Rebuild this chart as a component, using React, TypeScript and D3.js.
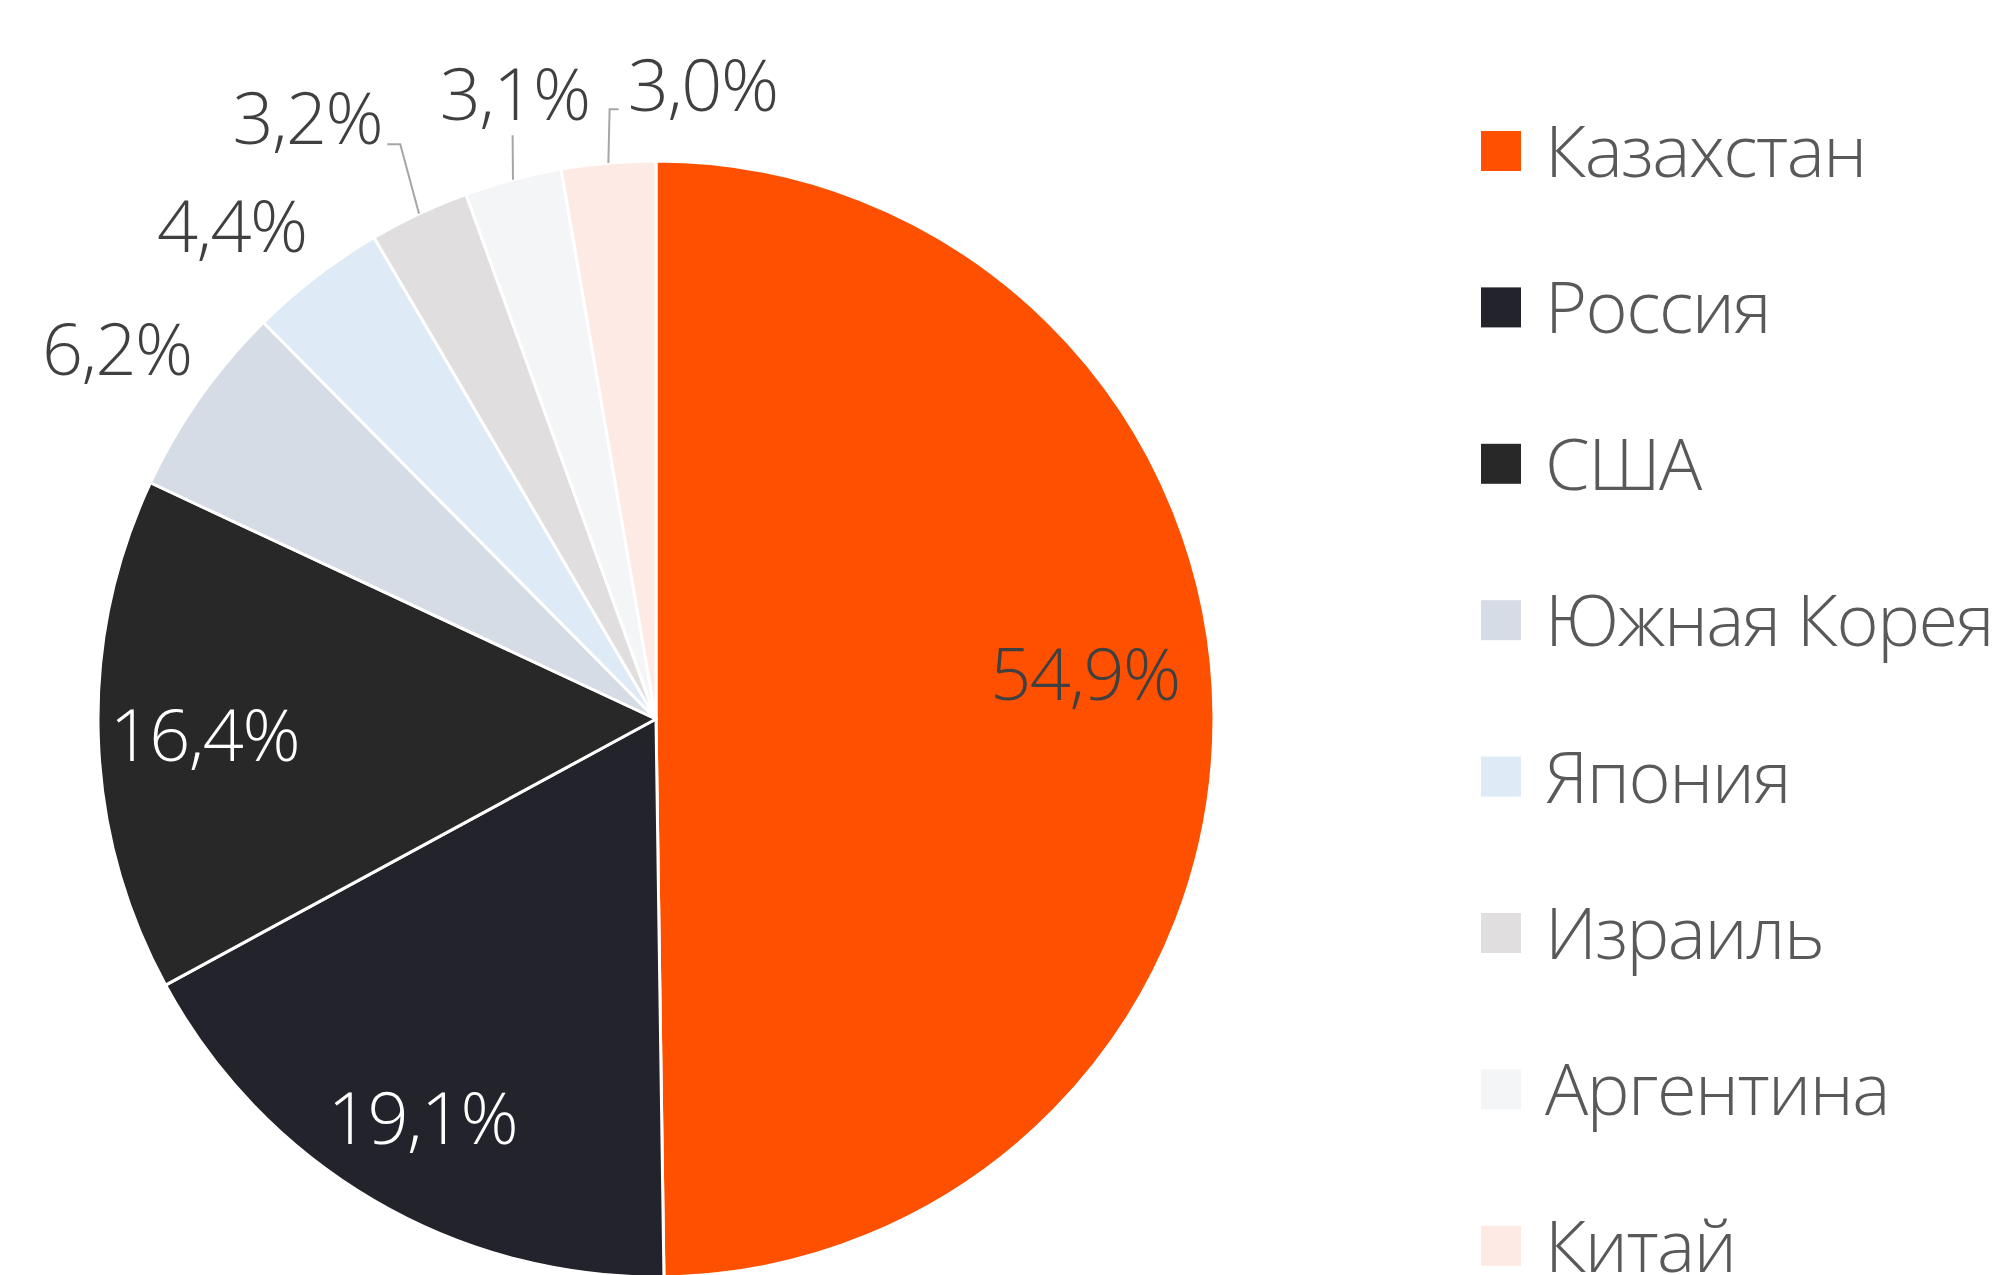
import React from 'react';
import * as d3 from 'd3';

const countries = ['Казахстан', 'Россия', 'США', 'Южная Корея', 'Япония', 'Израиль', 'Аргентина', 'Китай'];
const shares = [54.9, 19.1, 16.4, 6.2, 4.4, 3.2, 3.1, 3.0];
const shareLabels = ['54,9%', '19,1%', '16,4%', '6,2%', '4,4%', '3,2%', '3,1%', '3,0%'];

const sliceColors = ['#FF5000', '#22232B', '#282828', '#D6DCE5', '#DEEBF7', '#E0DEDF', '#F4F5F7', '#FEEAE4'];
const labelColors = ['#404040', '#FFFFFF', '#FFFFFF', '#404040', '#404040', '#404040', '#404040', '#404040'];
// label placement: angle shift from slice mid-angle (deg) and radius factor
const labelAngleShift = [-5.6, 0, -0.3, -0.7, -3.2, -5.0, 2.1, 9.1];
const labelRadius = [0.773, 0.828, 0.81, 1.172, 1.165, 1.245, 1.148, 1.139];
// leader lines: elbow offset from label centre, hook end offset from label centre (null = no leader)
const leaderElbow: ([number, number] | null)[] = [null, null, null, null, null, [93, 26], [-2, 41], [-93, 24]];
const leaderHook: ([number, number] | null)[] = [null, null, null, null, null, [80, 26], null, [-84, 24]];

const W = 2010;
const H = 1275;
const CX = 656;
const CY = 719;
const R = 558;
const FONT = '"Open Sans", "Segoe UI", sans-serif';
const FS = 72;
const LS = -1.5;

export default function App() {
  const pie = d3.pie<number>().sort(null).value((d) => d)(shares);
  const arc = d3.arc<d3.PieArcDatum<number>>().innerRadius(0).outerRadius(R);

  const pt = (angDeg: number, rad: number): [number, number] => {
    const a = (angDeg * Math.PI) / 180;
    return [rad * Math.sin(a), -rad * Math.cos(a)];
  };

  return (
    <svg width={W} height={H} style={{ position: 'absolute', left: 0, top: 0, background: '#fff' }}>
      <g transform={`translate(${CX},${CY})`}>
        {pie.map((p, i) => (
          <path key={i} d={arc(p) || ''} fill={sliceColors[i]} stroke="#fff" strokeWidth={3} strokeLinejoin="round" />
        ))}
        {pie.map((p, i) => {
          const mid = ((p.startAngle + p.endAngle) / 2) * 180 / Math.PI;
          const [lx, ly] = pt(mid + labelAngleShift[i], labelRadius[i] * R);
          const elbow = leaderElbow[i];
          const hook = leaderHook[i];
          let leader = null;
          if (elbow) {
            const [ex, ey] = pt(mid, R);
            const pts: [number, number][] = [[ex, ey], [lx + elbow[0], ly + elbow[1]]];
            if (hook) pts.push([lx + hook[0], ly + hook[1]]);
            leader = (
              <path d={d3.line()(pts) || ''} fill="none" stroke="#A6A6A6" strokeWidth={2} />
            );
          }
          return (
            <g key={i}>
              {leader}
              <text
                x={lx}
                y={ly}
                dy="0.36em"
                textAnchor="middle"
                fontFamily={FONT}
                fontWeight={300}
                fontSize={FS}
                letterSpacing={LS}
                fill={labelColors[i]}
              >
                {shareLabels[i]}
              </text>
            </g>
          );
        })}
      </g>
      <g>
        {countries.map((c, i) => {
          const y = 151 + i * 156.4;
          return (
            <g key={c}>
              <rect x={1481} y={y - 20} width={40} height={40} fill={sliceColors[i]} />
              <text x={1545} y={y} dy="0.36em" fontFamily={FONT} fontWeight={300} fontSize={FS} letterSpacing={LS} fill="#595959">
                {c}
              </text>
            </g>
          );
        })}
      </g>
    </svg>
  );
}
